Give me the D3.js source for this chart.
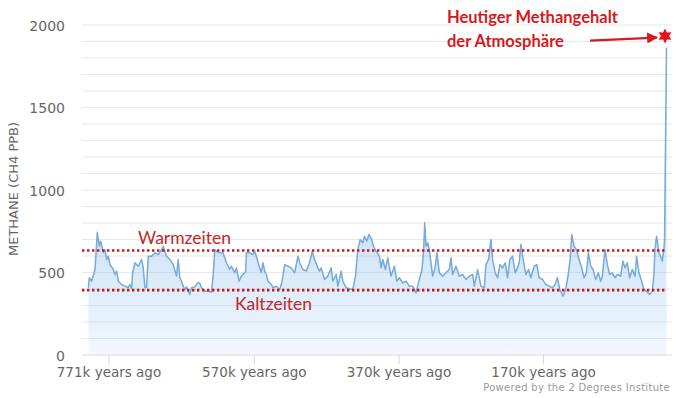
<!DOCTYPE html>
<html>
<head>
<meta charset="utf-8">
<script src="https://cdn.jsdelivr.net/npm/d3@7"></script>
<style>
  body { margin: 0; background: #fff; }
  svg { display: block; }
</style>
</head>
<body>
<svg id="chart"></svg>
<script>
// thousand years ago
var ageKyr = [
  799.5, 798.2, 795, 790.3, 787.1, 784.4, 782.5, 778.8, 776.5, 774.2, 771.9, 769.6, 765, 762.7, 760.4,
  758.1, 753.5, 748.9, 744.3, 742, 739.7, 738.3, 735.1, 730.5, 725.9, 723.6, 721.3, 719, 716.7, 712.1,
  707.5, 702.9, 698.3, 696, 691.4, 686.8, 682.2, 677.6, 675.3, 673, 670.7, 668.4, 666.1, 663.8, 659.2,
  656.9, 652.3, 647.7, 645.4, 643.1, 638.5, 633.9, 629.3, 627, 624.7, 622.4, 617.8, 613.2, 610.9, 608.6,
  604, 601.7, 597.1, 594.8, 591.1, 587.9, 585.6, 581.9, 581, 576.4, 571.8, 569.5, 567.2, 562.6, 560.3,
  558, 555.7, 553.4, 551.1, 546.5, 544.2, 539.6, 535,
  532.7, 530.4, 528.1, 523.5, 518.9, 514.3, 509.7, 507.4, 502.8, 498.2, 493.6, 489.9, 486.7, 482.1, 479.8,
  477.5, 472.9, 468.3, 463.7, 461.4, 456.8, 454.5, 449.9, 447.6, 443, 438.4, 433.8, 430.1, 426.9, 423.6,
  420, 417.7, 414.4, 411.7, 408.5, 405.2, 401.6, 397, 394.7, 392.4, 388.7, 385.5, 380.9, 376.3, 373,
  369.4, 364.8, 360.2, 355.6, 351, 346.3, 341.8, 338.1, 335.8, 334.4, 332.5, 330.3, 328, 323.4, 320.1,
  317.4, 314.2, 309.6, 305, 300.3, 298, 295.8, 291.1, 286.5, 282, 277.3, 272.7,
  268.1, 265.8, 261.2, 256.6, 252, 249.7, 246, 242.8, 240.5, 236.9, 233.6, 230.4, 226.7, 223, 219.8,
  216.6, 212.9, 209.2, 206, 203.7, 201.4, 198.2, 194.5, 190.8, 187.6, 183, 179.3, 176.1, 171.5, 166.9,
  162.3, 157.7, 154, 150.8, 147.6, 143, 139.3, 135.6, 133.3, 131, 127.8, 124.6, 120.9, 117.2, 114,
  110.8, 108, 104.8, 101.6, 97.9, 94.2, 91, 88.7, 85, 81.8, 78.6, 74.9, 71.2, 68, 63.4,
  60.2, 57.4, 54.2, 51, 47.3, 43.6, 41.3, 38.1, 34.4, 31.2, 27.5, 23.4, 19.7, 17.4, 16,
  13.7, 10.5, 8.2, 5.9, 3.6, 2.7, 0
];
// methane, ppb
var ch4Ppb = [
  404, 465, 444, 515, 741, 656, 687, 618, 636, 576, 596, 545, 515, 485, 505,
  444, 424, 414, 406, 424, 400, 497, 556, 535, 576, 525, 406, 406, 596, 596,
  616, 606, 636, 656, 596, 576, 545, 475, 576, 465, 444, 414, 394, 410, 364,
  404, 410, 436, 432, 404, 384, 384, 378, 475, 636, 626, 616, 616, 586, 556,
  515, 535, 496, 525, 444, 475, 485, 505, 616, 616, 606, 626, 596, 525, 497,
  556, 505, 485, 444, 424, 406, 414, 394,
  424, 475, 545, 535, 525, 495, 596, 556, 515, 505, 556, 626, 576, 525, 505,
  525, 455, 475, 525, 444, 485, 414, 505, 444, 404, 398, 394, 475, 636, 697,
  677, 717, 687, 727, 707, 656, 626, 596, 525, 576, 515, 586, 475, 535, 444,
  465, 434, 444, 414, 414, 374, 455, 515, 636, 798, 656, 677, 636, 475, 525,
  616, 495, 475, 495, 515, 586, 485, 535, 475, 485, 455, 475,
  485, 414, 515, 414, 404, 545, 576, 697, 576, 495, 465, 545, 525, 556, 465,
  576, 596, 495, 525, 556, 667, 576, 485, 515, 465, 535, 545, 465, 455, 424,
  414, 404, 424, 465, 394, 354, 394, 495, 576, 727, 656, 636, 576, 525, 465,
  495, 616, 535, 515, 455, 495, 444, 475, 636, 545, 485, 495, 465, 485, 475,
  566, 525, 556, 465, 515, 475, 596, 495, 444, 394, 384, 364, 384, 485, 636,
  717, 616, 596, 566, 636, 700, 1860
];
var yTicks = [0, 500, 1000, 1500, 2000];
var xTicks = [771, 570, 370, 170];
var xTickLabels = ['771k years ago', '570k years ago', '370k years ago', '170k years ago'];
var warmLevel = 630;
var coldLevel = 390;
var todayLevel = 1930;

var W = 684, H = 398;
var svg = d3.select('#chart').attr('width', W).attr('height', H);

var x = d3.scaleLinear().domain([800, 0]).range([88, 666.5]);
var y = d3.scaleLinear().domain([0, 2000]).range([354.5, 24.5]);
var gridLeft = 82, gridRight = 672;

var data = ageKyr.map(function (a, i) { return {age: a, v: ch4Ppb[i]}; });

// grid every 100 ppb
svg.append('g').selectAll('line')
    .data(d3.range(100, 2001, 100))
    .enter().append('line')
    .attr('x1', gridLeft).attr('x2', gridRight)
    .attr('y1', function (d) { return y(d) + 0.5; })
    .attr('y2', function (d) { return y(d) + 0.5; })
    .attr('stroke', '#e8e8e8')
    .attr('stroke-width', 1);

// y labels
svg.append('g').selectAll('text')
    .data(yTicks)
    .enter().append('text')
    .attr('x', 65)
    .attr('y', function (d) { return y(d); })
    .attr('dy', '0.45em')
    .attr('text-anchor', 'end')
    .attr('font-family', 'DejaVu Sans, sans-serif')
    .attr('font-size', 14)
    .attr('fill', '#666')
    .text(function (d) { return d; });

svg.append('text')
    .attr('transform', 'translate(18,' + 189 + ') rotate(-90)')
    .attr('text-anchor', 'middle')
    .attr('font-family', 'DejaVu Sans, sans-serif')
    .attr('font-size', 13)
    .attr('fill', '#666')
    .text('METHANE (CH4 PPB)');

// area gradient
var defs = svg.append('defs');
var grad = defs.append('linearGradient')
    .attr('id', 'fillGrad')
    .attr('gradientUnits', 'userSpaceOnUse')
    .attr('x1', 0).attr('x2', 0)
    .attr('y1', y(800)).attr('y2', y(0));
grad.append('stop').attr('offset', 0).attr('stop-color', '#7cb5ec').attr('stop-opacity', 0.4);
grad.append('stop').attr('offset', 1).attr('stop-color', '#7cb5ec').attr('stop-opacity', 0.1);

var area = d3.area()
    .x(function (d) { return x(d.age); })
    .y0(y(0))
    .y1(function (d) { return y(d.v); });

var line = d3.line()
    .x(function (d) { return x(d.age); })
    .y(function (d) { return y(d.v); });

svg.append('path')
    .datum(data)
    .attr('d', area)
    .attr('fill', 'url(#fillGrad)');

svg.append('path')
    .datum(data)
    .attr('d', line)
    .attr('fill', 'none')
    .attr('stroke', '#76aad8')
    .attr('stroke-width', 1.5)
    .attr('stroke-linejoin', 'round');

// x axis line + ticks
svg.append('line')
    .attr('x1', gridLeft).attr('x2', gridRight)
    .attr('y1', y(0) + 0.5).attr('y2', y(0) + 0.5)
    .attr('stroke', '#d8d8d8');

var xt = svg.append('g').selectAll('g')
    .data(xTicks)
    .enter().append('g')
    .attr('transform', function (d) { return 'translate(' + x(d) + ',0)'; });
xt.append('line')
    .attr('y1', y(0)).attr('y2', y(0) + 10)
    .attr('stroke', '#d8d8d8');
xt.append('text')
    .attr('y', 376.5)
    .attr('text-anchor', 'middle')
    .attr('font-family', 'DejaVu Sans, sans-serif')
    .attr('font-size', 13.5)
    .attr('fill', '#666')
    .text(function (d, i) { return xTickLabels[i]; });

// warm / cold reference lines
[warmLevel, coldLevel].forEach(function (lv) {
  svg.append('line')
      .attr('x1', gridLeft).attr('x2', 667)
      .attr('y1', y(lv)).attr('y2', y(lv))
      .attr('stroke', '#c8141c')
      .attr('stroke-width', 2.6)
      .attr('stroke-dasharray', '2.4,2.6');
});

var redFont = 'Lato, "Open Sans", sans-serif';
svg.append('text')
    .attr('x', 138).attr('y', 243.5)
    .attr('font-family', redFont)
    .attr('font-size', 17.5)
    .attr('fill', '#c3262b')
    .text('Warmzeiten');
svg.append('text')
    .attr('x', 235).attr('y', 310)
    .attr('font-family', redFont)
    .attr('font-size', 17.5)
    .attr('fill', '#c3262b')
    .text('Kaltzeiten');

// annotation for today's value
svg.append('text')
    .attr('x', 447).attr('y', 23)
    .attr('font-family', redFont)
    .attr('font-size', 16.5)
    .attr('font-weight', 'bold')
    .attr('fill', '#d71920')
    .text('Heutiger Methangehalt');
svg.append('text')
    .attr('x', 447).attr('y', 46.5)
    .attr('font-family', redFont)
    .attr('font-size', 16.5)
    .attr('font-weight', 'bold')
    .attr('fill', '#d71920')
    .text('der Atmosphäre');

defs.append('marker')
    .attr('id', 'arrowHead')
    .attr('viewBox', '0 0 10 10')
    .attr('refX', 9).attr('refY', 5)
    .attr('markerWidth', 5).attr('markerHeight', 5)
    .attr('orient', 'auto')
    .append('path')
    .attr('d', 'M0,0 L10,5 L0,10 Z')
    .attr('fill', '#d71920');

var starX = x(0) - 1.5, starY = y(todayLevel);
svg.append('line')
    .attr('x1', 590).attr('y1', starY + 4.5)
    .attr('x2', starX - 8).attr('y2', starY + 1.5)
    .attr('stroke', '#d71920')
    .attr('stroke-width', 2.2)
    .attr('marker-end', 'url(#arrowHead)');

var starPts = d3.range(12).map(function (i) {
  var r = i % 2 === 0 ? 7.5 : 4;
  var a = i * Math.PI / 6;
  return [starX + r * Math.sin(a), starY - r * Math.cos(a)];
});
svg.append('path')
    .attr('d', 'M' + starPts.join('L') + 'Z')
    .attr('fill', '#e8101a');

svg.append('text')
    .attr('x', 670).attr('y', 390.5)
    .attr('text-anchor', 'end')
    .attr('font-family', 'DejaVu Sans, sans-serif')
    .attr('font-size', 10)
    .attr('letter-spacing', 0.3)
    .attr('fill', '#999')
    .text('Powered by the 2 Degrees Institute');
</script>
</body>
</html>
